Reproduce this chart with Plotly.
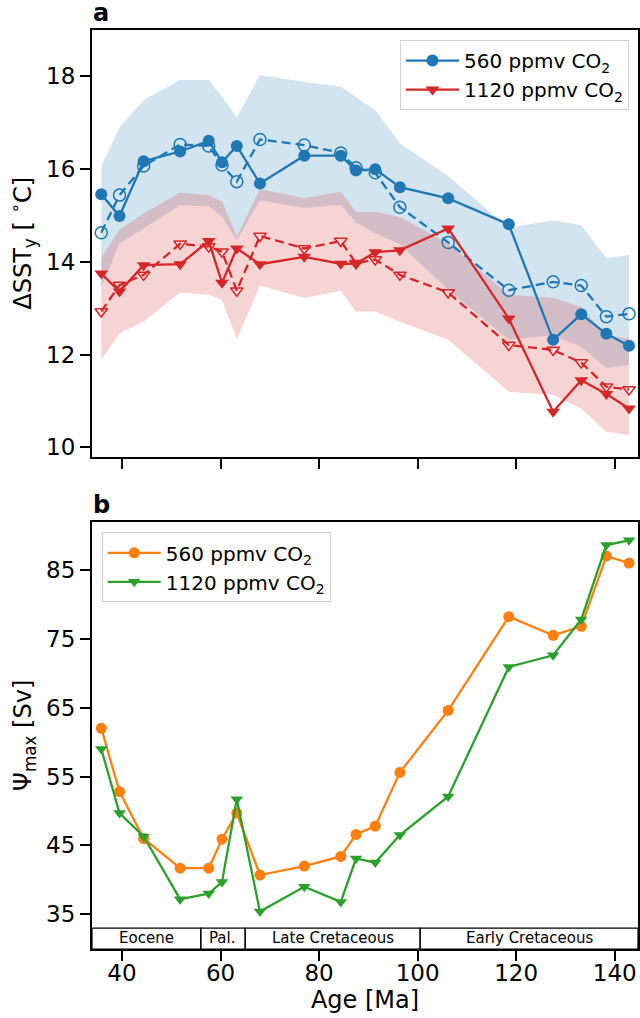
import plotly.graph_objects as go

# ---------------- data ----------------
age = [35.8, 39.5, 44.4, 51.8, 57.6, 60.3, 63.3, 68.0, 77.0, 84.4, 87.5, 91.4,
       96.4, 106.2, 118.5, 127.5, 133.2, 138.3, 142.9]

# panel a: Delta SST_y
sst560 = [15.46, 14.99, 16.17, 16.38, 16.61, 16.15, 16.50, 15.69, 16.29, 16.29,
          15.97, 16.00, 15.61, 15.37, 14.81, 12.32, 12.87, 12.45, 12.19]
sst560_alt = [14.63, 15.44, 16.07, 16.53, 16.50, 16.09, 15.73, 16.64, 16.52, 16.35,
              16.03, 15.92, 15.18, 14.42, 13.39, 13.57, 13.49, 12.82, 12.88]
sst1120 = [13.75, 13.36, 13.93, 13.95, 14.45, 13.55, 14.29, 13.95, 14.11, 13.96,
           13.96, 14.21, 14.25, 14.72, 12.78, 10.77, 11.45, 11.15, 10.84]
sst1120_alt = [12.93, 13.50, 13.72, 14.39, 14.33, 14.22, 13.38, 14.56, 14.29, 14.45,
               13.97, 14.05, 13.72, 13.34, 12.21, 12.10, 11.83, 11.31, 11.25]

band560_hi = [16.07, 16.89, 17.49, 17.92, 17.92, 17.56, 17.12, 18.03, 17.88, 17.78,
              17.55, 17.27, 16.56, 15.85, 14.73, 14.90, 14.79, 14.08, 14.15]
band560_lo = [13.45, 14.40, 14.72, 15.22, 15.20, 14.98, 14.47, 15.33, 15.16, 15.23,
              14.85, 14.62, 14.38, 13.40, 12.32, 12.42, 12.17, 11.71, 11.78]
band1120_hi = [14.08, 14.70, 15.05, 15.49, 15.44, 15.30, 14.55, 15.57, 15.37, 15.51,
               15.08, 15.08, 14.97, 14.40, 13.29, 13.22, 13.03, 12.42, 12.35]
band1120_lo = [11.89, 12.46, 12.71, 13.34, 13.29, 13.18, 12.33, 13.49, 13.22, 13.38,
               12.93, 12.93, 12.71, 12.32, 11.20, 11.13, 10.84, 10.34, 10.27]

# panel b: Psi_max
psi560 = [62.0, 52.8, 46.0, 41.7, 41.7, 45.9, 49.7, 40.7, 42.0, 43.4, 46.6, 47.8,
          55.6, 64.6, 78.2, 75.5, 76.8, 87.0, 86.0]
psi1120 = [59.0, 49.7, 46.3, 37.2, 38.0, 39.7, 51.7, 35.4, 39.0, 36.8, 43.1, 42.5,
           46.5, 52.1, 70.9, 72.6, 77.8, 88.6, 89.3]

# geological periods strip
periods = ["Eocene", "Pal.", "Late Cretaceous", "Early Cretaceous"]
period_start = [33.92, 56.0, 65.0, 100.5]
period_end = [56.0, 65.0, 100.5, 144.72]

labels = ["560 ppmv CO<sub>2</sub>", "1120 ppmv CO<sub>2</sub>"]

xticks = [40, 60, 80, 100, 120, 140]
yticks_a = [10, 12, 14, 16, 18]
yticks_b = [35, 45, 55, 65, 75, 85]

XR = [33.92, 144.72]

BLUE = "#1f77b4"
RED = "#d62728"
ORANGE = "#ff7f0e"
GREEN = "#2ca02c"
FONT = "DejaVu Sans"

fig = go.Figure()

# bands
for lo, hi, col in [(band560_lo, band560_hi, "rgba(31,119,180,0.2)"),
                    (band1120_lo, band1120_hi, "rgba(214,39,40,0.2)")]:
    fig.add_trace(go.Scatter(x=age, y=lo, mode="lines", line=dict(width=0),
                             showlegend=False, hoverinfo="skip", xaxis="x", yaxis="y"))
    fig.add_trace(go.Scatter(x=age, y=hi, mode="lines", line=dict(width=0),
                             fill="tonexty", fillcolor=col,
                             showlegend=False, hoverinfo="skip", xaxis="x", yaxis="y"))

LW = 2.3
DASH = "9px,5px"
# dashed (alternative) series
fig.add_trace(go.Scatter(x=age, y=sst560_alt, mode="lines+markers",
                         line=dict(color=BLUE, width=LW, dash=DASH),
                         marker=dict(symbol="circle-open", size=12, color=BLUE, line=dict(width=1.5)),
                         showlegend=False, xaxis="x", yaxis="y"))
fig.add_trace(go.Scatter(x=age, y=sst1120_alt, mode="lines+markers",
                         line=dict(color=RED, width=LW, dash=DASH),
                         marker=dict(symbol="triangle-down-open", size=11, color=RED, line=dict(width=1.5)),
                         showlegend=False, xaxis="x", yaxis="y"))
# solid series
fig.add_trace(go.Scatter(x=age, y=sst560, mode="lines+markers", name=labels[0],
                         line=dict(color=BLUE, width=LW),
                         marker=dict(symbol="circle", size=12, color=BLUE),
                         legend="legend", xaxis="x", yaxis="y"))
fig.add_trace(go.Scatter(x=age, y=sst1120, mode="lines+markers", name=labels[1],
                         line=dict(color=RED, width=LW),
                         marker=dict(symbol="triangle-down", size=12, color=RED),
                         legend="legend", xaxis="x", yaxis="y"))

# panel b
fig.add_trace(go.Scatter(x=age, y=psi560, mode="lines+markers", name=labels[0],
                         line=dict(color=ORANGE, width=LW),
                         marker=dict(symbol="circle", size=11, color=ORANGE),
                         legend="legend2", xaxis="x2", yaxis="y2"))
fig.add_trace(go.Scatter(x=age, y=psi1120, mode="lines+markers", name=labels[1],
                         line=dict(color=GREEN, width=LW),
                         marker=dict(symbol="triangle-down", size=11, color=GREEN),
                         legend="legend2", xaxis="x2", yaxis="y2"))

# strip of periods
shapes = []
annotations = []
for name, s, e in zip(periods, period_start, period_end):
    shapes.append(dict(type="rect", xref="x2", yref="y2", x0=s, x1=e, y0=29.96, y1=33.0,
                       line=dict(color="black", width=1.2), fillcolor="rgba(0,0,0,0)"))
    annotations.append(dict(xref="x2", yref="y2", x=(s + e) / 2, y=31.5, text=name,
                            showarrow=False, font=dict(family=FONT, size=15, color="black")))

annotations.append(dict(xref="paper", yref="paper", x=0, y=1, xanchor="left", yanchor="bottom",
                        xshift=-1, yshift=1, text="<b>a</b>", showarrow=False,
                        font=dict(family=FONT, size=24, color="black")))
annotations.append(dict(xref="paper", yref="paper", x=0, y=0.465, xanchor="left", yanchor="bottom",
                        xshift=-1, yshift=1, text="<b>b</b>", showarrow=False,
                        font=dict(family=FONT, size=24, color="black")))

axis_common = dict(showgrid=False, zeroline=False, showline=True, linecolor="black",
                   linewidth=2.2, mirror=True, ticks="outside", ticklen=10, tickwidth=2.2,
                   tickcolor="black", tickfont=dict(family=FONT, size=23, color="black"))

fig.update_layout(
    width=640, height=1018,
    margin=dict(l=92, r=2, t=30, b=69, autoexpand=False),
    paper_bgcolor="white", plot_bgcolor="white",
    font=dict(family=FONT, color="black"),
    xaxis=dict(domain=[0, 1], anchor="y", range=XR, tickvals=xticks,
               showticklabels=False, **axis_common),
    yaxis=dict(domain=[0.5357, 1], anchor="x", range=[9.80, 19.0], tickvals=yticks_a,
               title=dict(text="ΔSST<sub>y</sub> [ <sup>∘</sup>C]", standoff=8,
                          font=dict(family=FONT, size=24, color="black")),
               **axis_common),
    xaxis2=dict(domain=[0, 1], anchor="y2", range=XR, tickvals=xticks,
                ticklabelstandoff=-8,
                title=dict(text="Age [Ma]", standoff=4,
                           font=dict(family=FONT, size=24, color="black")),
                **axis_common),
    yaxis2=dict(domain=[0, 0.465], anchor="x2", range=[29.96, 92.0], tickvals=yticks_b,
                title=dict(text="Ψ<sub>max</sub> [Sv]", standoff=8,
                           font=dict(family=FONT, size=24, color="black")),
                **axis_common),
    legend=dict(x=0.9835, y=0.989, xanchor="right", yanchor="top", traceorder="normal",
                bgcolor="rgba(255,255,255,0.8)", bordercolor="#d0d0d0", borderwidth=1,
                font=dict(family=FONT, size=20, color="black"), itemwidth=53),
    legend2=dict(x=0.0178, y=0.4534, xanchor="left", yanchor="top", traceorder="normal",
                 bgcolor="rgba(255,255,255,0.8)", bordercolor="#d0d0d0", borderwidth=1,
                 font=dict(family=FONT, size=20, color="black"), itemwidth=53),
    shapes=shapes,
    annotations=annotations,
    showlegend=True,
)

fig.write_html("out.html", config={"displayModeBar": False},
               post_script="document.body.style.margin='0';document.body.style.overflow='hidden';")
